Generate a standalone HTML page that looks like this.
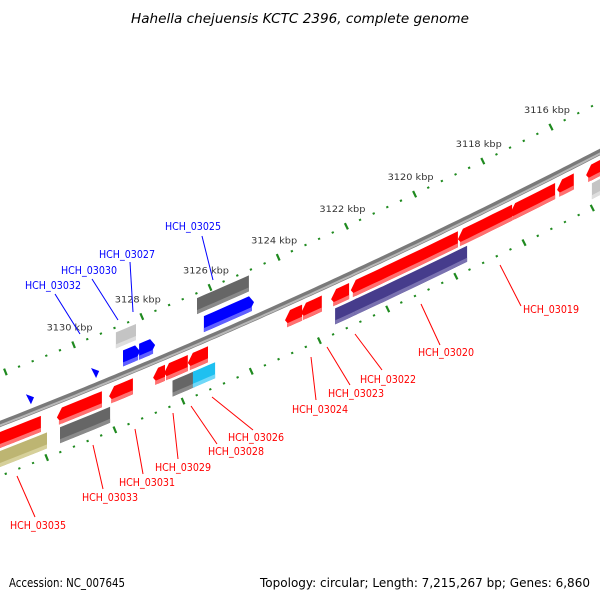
<!DOCTYPE html>
<html><head><meta charset="utf-8"><style>
html,body{margin:0;padding:0;background:#fff}
svg{display:block}
text{font-family:"DejaVu Sans","Liberation Sans",sans-serif}
</style></head><body>
<svg id="map" width="600" height="600" viewBox="0 0 600 600">
<text x="300" y="23" text-anchor="middle" font-size="13" font-style="italic" fill="#000" textLength="338" lengthAdjust="spacingAndGlyphs">Hahella chejuensis KCTC 2396, complete genome</text>
<text x="9" y="587" font-size="12" fill="#000" textLength="116" lengthAdjust="spacingAndGlyphs">Accession: NC_007645</text>
<text x="260" y="587" font-size="12" fill="#000" textLength="330" lengthAdjust="spacingAndGlyphs">Topology: circular; Length: 7,215,267 bp; Genes: 6,860</text>
<g id="ticks"></g><g id="genes"></g><g id="backbone"></g><g id="labels"></g>
</svg>
<script>
// ---- data ----
const tickLabelsKbp = [3116,3118,3120,3122,3124,3126,3128,3130];
const geneStart = [3131.37,3129.46,3128.55,3128.08,3126.18, 3128.76,3126.38,
  3132.4,3130.49,3128.96,3127.67,3127.35,3126.65,3123.80,3123.33,3122.45,3121.87,3118.73,3117.20,3115.82,3114.97,
  3132.4,3130.40,3127.10,3126.50,3122.33,3121.75,3114.80];
const geneEnd = [3131.19,3129.28,3128.05,3127.61,3124.71, 3128.17,3124.86,
  3130.96,3129.17,3128.26,3127.32,3126.65,3126.06,3123.30,3122.72,3121.92,3118.73,3117.14,3115.88,3115.33,3114.2,
  3130.78,3128.93,3126.44,3125.85,3121.69,3118.46,3114.2];
const geneTrack = [1,1,1,1,1, 2,2, 3,3,3,3,3,3,3,3,3,3,3,3,3,3, 4,4,4,4,4,4,4];
const geneColor = ['blue','blue','blue','blue','blue','lightgrey','darkgrey',
  'red','red','red','red','red','red','red','red','red','red','red','red','red','red',
  'olive','darkgrey','darkgrey','cyan','purple','purple','lightgrey'];
const geneLabels = [
 ['HCH_03025',165,230,'blue',202,236,213,280],
 ['HCH_03027',99,258,'blue',130,262,133,312],
 ['HCH_03030',61,274,'blue',92,279,118,320],
 ['HCH_03032',25,289,'blue',55,294,80,334],
 ['HCH_03019',523,313,'red',500,265,521,306],
 ['HCH_03020',418,356,'red',421,304,440,345],
 ['HCH_03022',360,383,'red',355,334,382,370],
 ['HCH_03023',328,397,'red',327,347,350,385],
 ['HCH_03024',292,413,'red',311,357,316,400],
 ['HCH_03026',228,441,'red',212,397,253,430],
 ['HCH_03028',208,455,'red',191,406,217,444],
 ['HCH_03029',155,471,'red',173,413,178,459],
 ['HCH_03031',119,486,'red',135,429,143,474],
 ['HCH_03033',82,501,'red',93,445,103,489],
 ['HCH_03035',10,529,'red',17,476,35,517]
];
// ---- axes ----
const NS='http://www.w3.org/2000/svg';
function xOf(k){return 551-(k-3116)*34.1;}
function yb(x){return 424-0.39*x-1.056e-4*x*x;}
function slope(x){return -0.39-2.112e-4*x;}
const palette={red:['#ff0000','#ff7070','#c00000'],blue:['#0000ff','#6060ff','#0000b0'],darkgrey:['#666666','#8a8a8a','#444'],
 lightgrey:['#c4c4c4','#dedede','#999'],olive:['#bdb572','#d6d09a','#948c50'],cyan:['#1ec0f0','#70d8f8','#0a90c0'],purple:['#463c8c','#7a72b0','#2c2460']};
const trackOff={1:[-24,-8],2:[-45,-29],3:[8,24],4:[27,43]};
function mk(tag,attrs,parent){const e=document.createElementNS(NS,tag);for(const a in attrs)e.setAttribute(a,attrs[a]);parent.appendChild(e);return e;}
// backbone
const bb=document.getElementById('backbone');
let d='';for(let x=-5;x<=605;x+=5){d+=(x===-5?'M':'L')+x+','+yb(x).toFixed(1);}
const bbl=mk('path',{d:d,stroke:'#7a7a7a','stroke-width':6,fill:'none'},bb);


let d2='';for(let x=-5;x<=605;x+=5){d2+=(x===-5?'M':'L')+x+','+(yb(x)+1.5).toFixed(1);}
const bbh=mk('path',{d:d2,stroke:'#b8b8b8','stroke-width':2,fill:'none'},bb);


// ticks
const tg=document.getElementById('ticks');
function tickRow(off,phase,name){
  for(let i=-40;i<=60;i++){
    const k=phase+i*0.4; const x=xOf(k); if(x<-5||x>605)continue;
    const y=yb(x)+off; const m=slope(x); const n=Math.hypot(m,1); const nx=-m/n, ny=1/n;
    const major=(i%5===0);
    const L=major?3.5:1;
    const t=mk('line',{x1:(x-nx*L).toFixed(1),y1:(y-ny*L).toFixed(1),x2:(x+nx*L).toFixed(1),y2:(y+ny*L).toFixed(1),stroke:'#1f8a1f','stroke-width':2.2},tg);
    
    
  }
}
tickRow(-50,3116,'outer');
tickRow(52,3118.79,'inner');
tickLabelsKbp.forEach(k=>{
  const x=xOf(k);
  const t=mk('text',{x:(x-27).toFixed(1),y:(yb(x)-64).toFixed(1),'font-size':9,fill:'#333',textLength:46,lengthAdjust:'spacingAndGlyphs'},tg);
  t.textContent=k+' kbp';
  
  
});
// genes
const gg=document.getElementById('genes');
function band(x1,x2,o1,o2,arrowLeft,arrowRight){
  const ah=5, pts=[]; const mid=(o1+o2)/2;
  const a=arrowLeft?x1+ah:x1, b=arrowRight?x2-ah:x2;
  if(arrowLeft)pts.push([x1,yb(x1)+mid]);
  const steps=Math.max(2,Math.ceil((b-a)/10));
  for(let s=0;s<=steps;s++){const x=a+(b-a)*s/steps;pts.push([x,yb(x)+o1]);}
  if(arrowRight)pts.push([x2,yb(x2)+mid]);
  for(let s=steps;s>=0;s--){const x=a+(b-a)*s/steps;pts.push([x,yb(x)+o2]);}
  return pts.map(p=>p[0].toFixed(1)+','+p[1].toFixed(1)).join(' ');
}
for(let i=0;i<geneStart.length;i++){
  const x1=Math.min(xOf(geneStart[i]),xOf(geneEnd[i])), x2=Math.max(xOf(geneStart[i]),xOf(geneEnd[i]));
  const [o1,o2]=trackOff[geneTrack[i]]; const c=palette[geneColor[i]];
  const g=mk('g',{},gg);
  
  
  const fwd=geneTrack[i]===1, rev=geneTrack[i]===3;
  if(x2-x1<8 && fwd){
    const xm=(x1+x2)/2, y=yb(xm);
    const p=mk('polygon',{points:`${x1-1},${y-18} ${x2+1},${y-15} ${xm+1},${y-8}`,fill:c[0]},g);
    
    
    continue;
  }
  const body=mk('polygon',{points:band(x1,x2,o1,o2,rev,fwd),fill:c[0]},g);
  
  
  const low=mk('polygon',{points:band(x1+(rev?2:0),x2-(fwd?2:0),o2-4,o2,false,false),fill:c[1]},g);
  
  
}
// labels
const lg=document.getElementById('labels');
geneLabels.forEach(L=>{
  const col=L[3]==='blue'?'#0000ff':'#ff0000';
  const ln=mk('line',{x1:L[4],y1:L[5],x2:L[6],y2:L[7],stroke:col,'stroke-width':1},lg);
  
  
  const t=mk('text',{x:L[1],y:L[2],'font-size':10.5,fill:col,textLength:56,lengthAdjust:'spacingAndGlyphs'},lg);
  t.textContent=L[0];
  
  
});
</script>
</body></html>
